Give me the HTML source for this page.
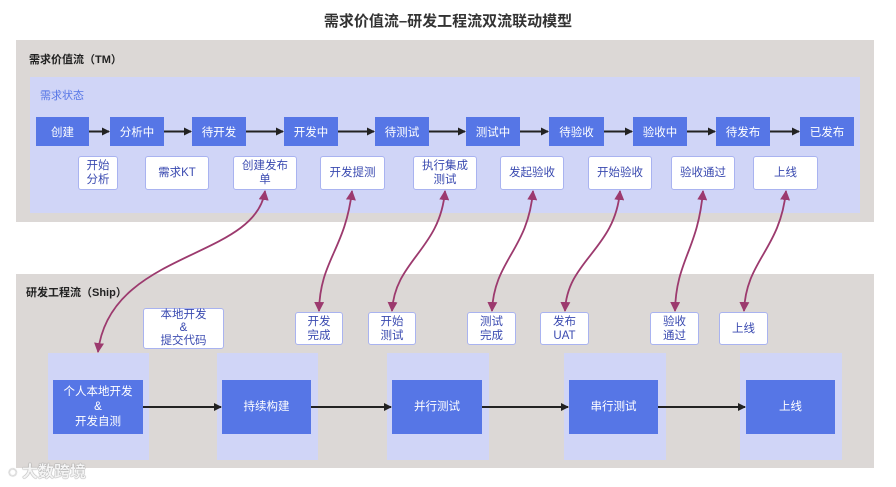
<!DOCTYPE html>
<html><head><meta charset="utf-8"><style>
*{margin:0;padding:0;box-sizing:border-box}
body{width:896px;height:487px;background:#fff;position:relative;overflow:hidden;font-family:"Liberation Sans","Noto Sans CJK SC",sans-serif}
.a{position:absolute}
.t{display:flex;align-items:center;justify-content:center;text-align:center}
.st{background:#5676e6;color:#fff;font-size:11.5px}
.sub{background:#fff;border:1.5px solid #a9b3f0;border-radius:3px;color:#3a4ab0;font-size:11.5px;line-height:14px}
.lb{background:#d0d5f7}
.dk{background:#5676e6;color:#fff;font-size:11.5px;line-height:15px}
</style></head><body>
<div class="a" style="left:0;top:10px;width:896px;text-align:center;font-size:15px;font-weight:bold;color:#333">需求价值流–研发工程流双流联动模型</div>

<div class="a" style="left:16px;top:40px;width:858px;height:182px;background:#dcd8d6"></div>
<div class="a" style="left:29px;top:51px;font-size:11px;font-weight:bold;color:#222">需求价值流（TM）</div>
<div class="a" style="left:30px;top:77px;width:830px;height:136px;background:#d0d5f7"></div>
<div class="a" style="left:40px;top:87px;font-size:11px;color:#5676e6">需求状态</div>

<div class="a" style="left:16px;top:274px;width:858px;height:194px;background:#dcd8d6"></div>
<div class="a" style="left:26px;top:284px;font-size:11px;font-weight:bold;color:#222">研发工程流（Ship）</div>

<div class="a t st" style="left:36px;top:117px;width:53px;height:29px">创建</div>
<div class="a t st" style="left:110px;top:117px;width:54px;height:29px">分析中</div>
<div class="a t st" style="left:192px;top:117px;width:54px;height:29px">待开发</div>
<div class="a t st" style="left:284px;top:117px;width:54px;height:29px">开发中</div>
<div class="a t st" style="left:375px;top:117px;width:54px;height:29px">待测试</div>
<div class="a t st" style="left:466px;top:117px;width:54px;height:29px">测试中</div>
<div class="a t st" style="left:549px;top:117px;width:55px;height:29px">待验收</div>
<div class="a t st" style="left:633px;top:117px;width:54px;height:29px">验收中</div>
<div class="a t st" style="left:716px;top:117px;width:54px;height:29px">待发布</div>
<div class="a t st" style="left:800px;top:117px;width:54px;height:29px">已发布</div>

<div class="a t sub" style="left:78px;top:156px;width:40px;height:34px">开始<br>分析</div>
<div class="a t sub" style="left:145px;top:156px;width:64px;height:34px">需求KT</div>
<div class="a t sub" style="left:233px;top:156px;width:64px;height:34px">创建发布<br>单</div>
<div class="a t sub" style="left:320px;top:156px;width:65px;height:34px">开发提测</div>
<div class="a t sub" style="left:413px;top:156px;width:64px;height:34px">执行集成<br>测试</div>
<div class="a t sub" style="left:500px;top:156px;width:64px;height:34px">发起验收</div>
<div class="a t sub" style="left:588px;top:156px;width:64px;height:34px">开始验收</div>
<div class="a t sub" style="left:671px;top:156px;width:64px;height:34px">验收通过</div>
<div class="a t sub" style="left:753px;top:156px;width:65px;height:34px">上线</div>

<div class="a t sub" style="left:143px;top:308px;width:81px;height:41px;line-height:13px">本地开发<br>&amp;<br>提交代码</div>
<div class="a t sub" style="left:295px;top:312px;width:48px;height:33px">开发<br>完成</div>
<div class="a t sub" style="left:368px;top:312px;width:48px;height:33px">开始<br>测试</div>
<div class="a t sub" style="left:467px;top:312px;width:49px;height:33px">测试<br>完成</div>
<div class="a t sub" style="left:540px;top:312px;width:49px;height:33px">发布<br>UAT</div>
<div class="a t sub" style="left:650px;top:312px;width:49px;height:33px">验收<br>通过</div>
<div class="a t sub" style="left:719px;top:312px;width:49px;height:33px">上线</div>

<div class="a lb" style="left:48px;top:353px;width:101px;height:107px"></div>
<div class="a lb" style="left:217px;top:353px;width:101px;height:107px"></div>
<div class="a lb" style="left:387px;top:353px;width:102px;height:107px"></div>
<div class="a lb" style="left:564px;top:353px;width:102px;height:107px"></div>
<div class="a lb" style="left:740px;top:353px;width:102px;height:107px"></div>
<div class="a t dk" style="left:53px;top:380px;width:90px;height:54px">个人本地开发<br>&amp;<br>开发自测</div>
<div class="a t dk" style="left:222px;top:380px;width:89px;height:54px">持续构建</div>
<div class="a t dk" style="left:392px;top:380px;width:90px;height:54px">并行测试</div>
<div class="a t dk" style="left:569px;top:380px;width:89px;height:54px">串行测试</div>
<div class="a t dk" style="left:746px;top:380px;width:89px;height:54px">上线</div>

<svg class="a" style="left:0;top:0" width="896" height="487">
<defs>
<marker id="k" markerWidth="8" markerHeight="8" refX="7" refY="4" orient="auto" markerUnits="userSpaceOnUse"><path d="M0,0 L8,4 L0,8z" fill="#222"/></marker>
<marker id="p" markerWidth="10" markerHeight="10" refX="9" refY="5" orient="auto-start-reverse" markerUnits="userSpaceOnUse"><path d="M0,0 L10,5 L0,10z" fill="#9c3a6e"/></marker>
</defs>
<g stroke="#222" stroke-width="2" fill="none" marker-end="url(#k)">
<path d="M89,131.5H109"/><path d="M164,131.5H191"/><path d="M246,131.5H283"/><path d="M338,131.5H374"/><path d="M429,131.5H465"/><path d="M520,131.5H548"/><path d="M604,131.5H632"/><path d="M687,131.5H715"/><path d="M770,131.5H799"/>
<path d="M143,407H221"/><path d="M311,407H391"/><path d="M482,407H568"/><path d="M658,407H745"/>
</g>
<g stroke="#9c3a6e" stroke-width="1.8" fill="none" marker-start="url(#p)" marker-end="url(#p)">
<path d="M265,191 C255,260 110,250 98,352"/>
<path d="M352,191 C345,250 320,260 319,311"/>
<path d="M445,191 C440,250 395,260 392,311"/>
<path d="M533,191 C528,250 494,260 492,311"/>
<path d="M620,191 C615,250 567,260 565,311"/>
<path d="M703,191 C698,250 676,260 675,311"/>
<path d="M786,191 C780,250 746,260 744,311"/>
</g>
</svg>
<div class="a" style="left:8px;top:458px;font-size:16px;color:#f4f4f4;text-shadow:0 0 1px #888,0 0 1px #888;font-weight:bold">◌ 大数跨境</div>
</body></html>
